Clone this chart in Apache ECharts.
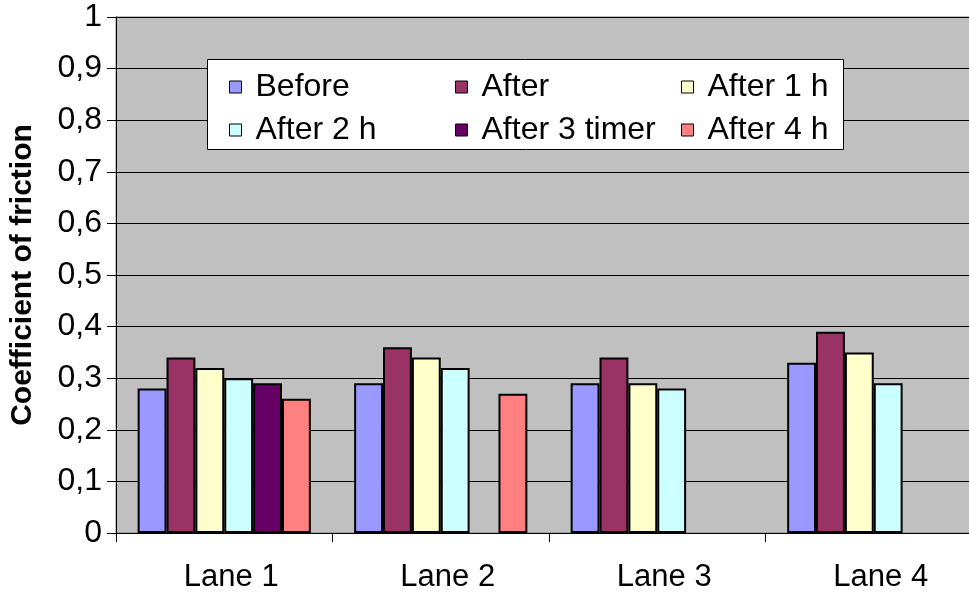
<!DOCTYPE html>
<html>
<head>
<meta charset="utf-8">
<script src="https://cdn.jsdelivr.net/npm/echarts@6/dist/echarts.min.js"></script>
<style>html,body{margin:0;padding:0;background:#fff}#c{width:969px;height:596px}</style>
</head>
<body>
<div id="c"></div>
<script>
var categories = ['Lane 1', 'Lane 2', 'Lane 3', 'Lane 4'];
var seriesNames = ['Before', 'After', 'After 1 h', 'After 2 h', 'After 3 timer', 'After 4 h'];
var before = [0.28, 0.29, 0.29, 0.33];
var after = [0.34, 0.36, 0.34, 0.39];
var after1h = [0.32, 0.34, 0.29, 0.35];
var after2h = [0.30, 0.32, 0.28, 0.29];
var after3timer = [0.29, null, null, null];
var after4h = [0.26, 0.27, null, null];
var seriesValues = [before, after, after1h, after2h, after3timer, after4h];
var colors = ['#9999FF', '#993366', '#FFFFCC', '#CCFFFF', '#660066', '#FF8080'];

var font = '"Liberation Sans", Arial, sans-serif';
var chart = echarts.init(document.getElementById('c'), null, {renderer: 'canvas'});

var legendPos = [
  {left: 229, top: 71}, {left: 455, top: 71}, {left: 681, top: 71},
  {left: 229, top: 114}, {left: 455, top: 114}, {left: 681, top: 114}
];
var legends = seriesNames.map(function (n, i) {
  return {
    data: [{name: n, icon: 'rect'}], left: legendPos[i].left, top: legendPos[i].top, z: 10,
    itemWidth: 12, itemHeight: 12, itemGap: 0, padding: 0,
    selectedMode: false,
    textStyle: {fontFamily: font, fontSize: 32, color: '#000', padding: [0, 0, 0, 9]},
    itemStyle: {borderColor: '#000', borderWidth: 1}
  };
});

var option = {
  animation: false,
  backgroundColor: '#fff',
  color: colors,
  grid: {
    left: 116, top: 17, width: 866, bottom: 63,
    outerBoundsMode: 'none', containLabel: false,
    show: true, backgroundColor: '#C0C0C0', borderColor: '#808080', borderWidth: 1
  },
  graphic: [{
    type: 'rect', left: 207, top: 59, z: 3,
    shape: {width: 636, height: 90},
    style: {fill: '#fff', stroke: '#000', lineWidth: 1}
  }],
  legend: legends,
  xAxis: {
    type: 'category', data: categories,
    axisLine: {show: true, lineStyle: {color: '#000', width: 1}},
    axisTick: {show: true, inside: false, length: 9, alignWithLabel: false, lineStyle: {color: '#000'}},
    axisLabel: {fontFamily: font, fontSize: 31, color: '#000', margin: 29, padding: [0, 0, 0, 14]},
    splitLine: {show: false}
  },
  yAxis: {
    type: 'value', min: 0, max: 1, interval: 0.1,
    name: 'Coefficient of friction', nameLocation: 'middle', nameGap: 78, nameRotate: 90,
    nameTextStyle: {fontFamily: font, fontSize: 30, fontWeight: 'bold', color: '#000'},
    axisLine: {show: true, lineStyle: {color: '#000', width: 1}},
    axisTick: {show: true, length: 9, lineStyle: {color: '#000'}},
    axisLabel: {
      fontFamily: font, fontSize: 32, color: '#000', margin: 14,
      formatter: function (v) { return (Math.round(v * 10) / 10).toString().replace('.', ','); }
    },
    splitLine: {show: true, lineStyle: {color: '#000', width: 1}}
  },
  series: seriesNames.map(function (n, i) {
    return {
      name: n, type: 'bar', data: seriesValues[i],
      barGap: '0%', barCategoryGap: '20%',
      itemStyle: {color: colors[i], borderColor: '#000', borderWidth: 2}
    };
  })
};
chart.setOption(option);
</script>
</body>
</html>
